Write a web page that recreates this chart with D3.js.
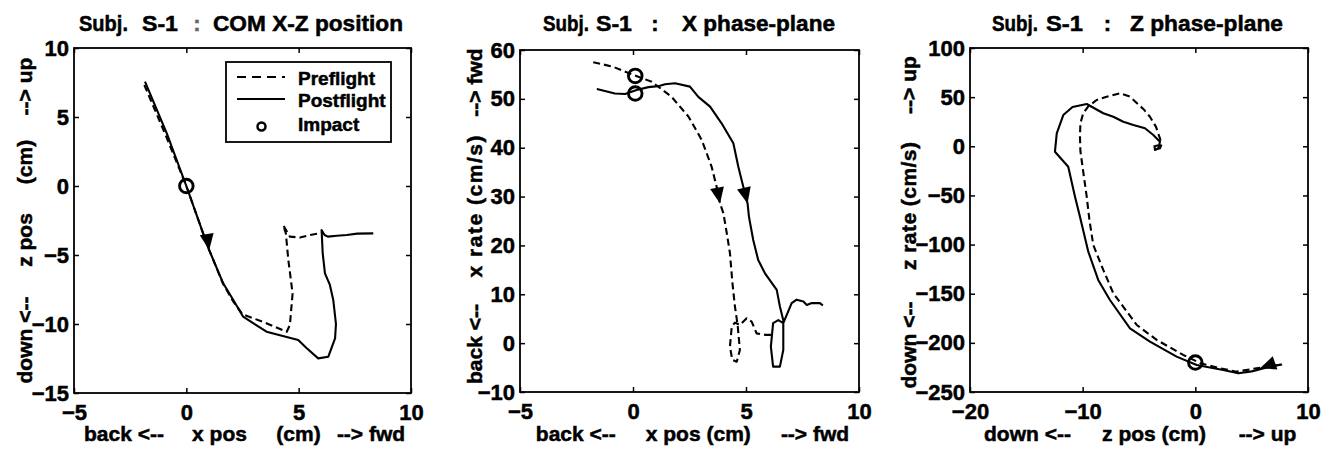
<!DOCTYPE html>
<html><head><meta charset="utf-8">
<script src="https://cdn.jsdelivr.net/npm/d3@7"></script>
<style>
html,body{margin:0;padding:0;background:#fff;}
svg{display:block;font-family:"Liberation Sans",Arial,Helvetica,sans-serif;font-weight:bold;}
svg text{stroke:#000;stroke-width:0.5px;}
</style></head>
<body><svg id="c" width="1336" height="452"></svg>
<script>
// ---------------- DATA ----------------
// Panel 1 : COM X-Z position  [x pos (cm), z pos (cm)]
const p1Pre = [[-1.87,7.32],[-0.9,3.6],[0,0],[0.98,-4.5],[1.64,-7.1],[2.1,-8.4],[2.5,-9.3],[3.5,-9.9],[4.47,-10.56],[4.61,-10.07],[4.73,-7.78],[4.54,-5.36],[4.43,-3.43],[4.31,-2.83],[4.61,-3.67],[5.06,-3.73],[5.5,-3.55],[5.95,-3.43]];
const p1Post = [[-1.84,7.56],[-0.87,3.82],[0,0],[0.98,-4.5],[1.64,-7.05],[2.09,-8.26],[2.53,-9.47],[3.57,-10.56],[4.98,-11.16],[5.36,-11.76],[5.87,-12.49],[6.32,-12.37],[6.62,-11.04],[6.66,-10.0],[6.54,-8.26],[6.39,-7.17],[6.17,-6.33],[6.07,-4.88],[6.02,-3.19],[6.15,-3.55],[6.3,-3.67],[6.7,-3.6],[7.14,-3.55],[7.6,-3.45],[8.32,-3.43]];
const p1Impact = [[0,0]];
const p1Arrows = [[[0.9,-3.43],[1.02,-4.64]]];
const p1XTicks = [-5,0,5,10];
const p1YTicks = [-15,-10,-5,0,5,10];

// Panel 2 : X phase-plane  [x pos (cm), x rate (cm/s)]
const p2Pre = [[-1.76,57.5],[-0.9,56.6],[0.01,54.9],[0.83,53.5],[1.71,50.4],[2.45,46.4],[3.04,41.6],[3.48,36.1],[3.7,32.0],[3.85,28.6],[4.0,26.6],[4.15,22.5],[4.29,18.4],[4.4,12.3],[4.51,7.5],[4.63,3.7],[4.73,-1.4],[4.59,-3.8],[4.39,-3.4],[4.29,-0.7],[4.37,3.4],[4.51,4.2],[4.73,3.7],[5.03,5.1],[5.25,4.4],[5.47,2.0],[5.84,1.7],[6.2,1.7]];
const p2Post = [[-1.6,52.0],[-0.8,51.1],[-0.35,51.0],[0.16,51.8],[0.68,52.4],[1.12,52.6],[1.42,53.0],[1.86,53.2],[2.52,52.5],[2.89,50.4],[3.41,48.4],[3.92,45.0],[4.44,40.9],[4.66,36.1],[4.88,32.0],[5.07,28.6],[5.13,25.9],[5.32,21.1],[5.54,17.0],[5.84,14.3],[6.36,10.9],[6.5,7.5],[6.65,4.7],[6.65,-1.4],[6.5,-4.8],[6.2,-4.8],[6.1,-0.7],[6.2,4.1],[6.43,4.7],[6.65,4.1],[7.02,8.2],[7.24,8.9],[7.54,8.5],[7.69,7.8],[7.91,8.2],[8.27,8.2],[8.4,7.7]];
const p2Impact = [[0.1,54.7],[0.1,51.1]];
const p2Arrows = [[[3.73,31.5],[3.85,28.6]],[[4.91,31.7],[5.07,28.6]]];
const p2XTicks = [-5,0,5,10];
const p2YTicks = [-10,0,10,20,30,40,50,60];

// Panel 3 : Z phase-plane  [z pos (cm), z rate (cm/s)]
const p3Pre = [[7.7,-222],[6.5,-224],[5.44,-225.8],[3.66,-229.3],[2.18,-225.8],[0.5,-221],[-1.07,-212.3],[-3.43,-197],[-5.2,-181.8],[-7.28,-149.5],[-8.17,-125.8],[-9.06,-100.4],[-9.4,-75],[-9.64,-51.3],[-9.9,-30],[-10.2,-5],[-10.24,10],[-10.2,23.4],[-9.95,33.6],[-9.5,40.5],[-8.76,47.1],[-7.87,50.5],[-6.69,53.9],[-5.8,50.5],[-4.62,38],[-4.03,30.1],[-3.5,20],[-3.14,8],[-3.0,2],[-3.14,-2],[-3.43,-3],[-3.6,0],[-3.3,1]];
const p3Post = [[7.6,-222],[6.0,-226],[5.0,-229],[3.81,-231],[2.48,-227.6],[0.12,-222.5],[-1.66,-214],[-4.03,-198.8],[-5.8,-185.2],[-7.58,-156.4],[-8.62,-136],[-9.5,-107.2],[-10.24,-71.6],[-10.68,-51.3],[-11.28,-20.8],[-12.46,-5.5],[-12.3,13.2],[-11.72,31.8],[-10.9,40],[-9.64,43.0],[-8.17,33.6],[-7.28,30.1],[-6.39,25.0],[-5.5,21.7],[-4.47,18.3],[-3.73,11.5],[-3.14,4.7],[-3.28,-2.0],[-3.58,-3.8],[-3.64,1]];
const p3Impact = [[0,-220]];
const p3Arrows = [[[6.92,-221],[5.74,-225.8]]];
const p3XTicks = [-20,-10,0,10];
const p3YTicks = [-250,-200,-150,-100,-50,0,50,100];

// Text
const legendLabels = ["Preflight","Postflight","Impact"];
const titles = [
  ["Subj.","S-1",":","COM X-Z position"],
  ["Subj.","S-1",":","X phase-plane"],
  ["Subj.","S-1",":","Z phase-plane"]
];
const xLabels = [
  ["back <--","x pos","(cm)","--> fwd"],
  ["back <--","x pos (cm)","--> fwd"],
  ["down <--","z pos (cm)","--> up"]
];
const yLabels = [
  ["down <--","z pos","(cm)","--> up"],
  ["back <--","x rate (cm/s)","--> fwd"],
  ["down <--","z rate (cm/s)","--> up"]
];

// ---------------- LAYOUT ----------------
const svg = d3.select("#c");
const panels = [
  {pre:p1Pre, post:p1Post, impact:p1Impact, arrows:p1Arrows, xt:p1XTicks, yt:p1YTicks,
   xd:[-5,10], yd:[-15,10], left:74, right:411, top:48, bottom:393,
   tX:[79,142,null,213], tW:[49,36,null,190], colon:197,
   xCx:[124,219.5,298.5,371], yCy:[340,240,162,86.5], yW:[null,null,null,null], yBx:32},
  {pre:p2Pre, post:p2Post, impact:p2Impact, arrows:p2Arrows, xt:p2XTicks, yt:p2YTicks,
   xd:[-5,10], yd:[-10,60], left:520, right:859, top:50, bottom:392,
   tX:[543,596,null,682], tW:[46,36,null,153], colon:655,
   xCx:[575.8,698.3,815], yCy:[344,206.5,82.5], yW:[null,142,null], yBx:482},
  {pre:p3Pre, post:p3Post, impact:p3Impact, arrows:p3Arrows, xt:p3XTicks, yt:p3YTicks,
   xd:[-20,10], yd:[-250,100], left:970, right:1308, top:48, bottom:392,
   tX:[992,1046,null,1130], tW:[46,37,null,153], colon:1107.5,
   xCx:[1027.5,1154,1267.5], yCy:[345,206,85], yW:[null,128,null], yBx:916}
];

const FS = 21, TFS = 22;

panels.forEach((p, i) => {
  const x = d3.scaleLinear().domain(p.xd).range([p.left, p.right]);
  const y = d3.scaleLinear().domain(p.yd).range([p.bottom, p.top]);
  const g = svg.append("g");

  const styleAxis = (sel) => {
    sel.select(".domain").remove();
    sel.selectAll(".tick line").attr("stroke","#000").attr("stroke-width",1.5);
    sel.selectAll("text").attr("font-size",22).attr("font-weight","bold").attr("fill","#000")
      .attr("font-family",'"Liberation Sans",Arial,Helvetica,sans-serif');
  };
  g.append("g").attr("transform",`translate(0,${p.bottom})`)
    .call(d3.axisBottom(x).tickValues(p.xt).tickSizeInner(-5).tickSizeOuter(0).tickPadding(11).tickFormat(d3.format("d")))
    .call(styleAxis);
  g.append("g").attr("transform",`translate(0,${p.top})`)
    .call(d3.axisTop(x).tickValues(p.xt).tickSizeInner(-5).tickSizeOuter(0).tickFormat(""))
    .call(styleAxis);
  g.append("g").attr("transform",`translate(${p.left},0)`)
    .call(d3.axisLeft(y).tickValues(p.yt).tickSizeInner(-5).tickSizeOuter(0).tickPadding(5).tickFormat(d3.format("d")))
    .call(styleAxis);
  g.append("g").attr("transform",`translate(${p.right},0)`)
    .call(d3.axisRight(y).tickValues(p.yt).tickSizeInner(-5).tickSizeOuter(0).tickFormat(""))
    .call(styleAxis);

  g.append("rect").attr("x",p.left).attr("y",p.top)
    .attr("width",p.right-p.left).attr("height",p.bottom-p.top)
    .attr("fill","none").attr("stroke","#000").attr("stroke-width",1.8);

  const line = d3.line().x(d=>x(d[0])).y(d=>y(d[1]));
  g.append("path").datum(p.pre).attr("d",line).attr("fill","none")
    .attr("stroke","#000").attr("stroke-width",2.1).attr("stroke-dasharray","7,4")
    .attr("stroke-linejoin","round");
  g.append("path").datum(p.post).attr("d",line).attr("fill","none")
    .attr("stroke","#000").attr("stroke-width",2.1).attr("stroke-linejoin","round");

  g.selectAll("circle.imp").data(p.impact).enter().append("circle")
    .attr("cx",d=>x(d[0])).attr("cy",d=>y(d[1])).attr("r",6.8)
    .attr("fill","none").attr("stroke","#000").attr("stroke-width",2.9);

  p.arrows.forEach(a => {
    const fx = x(a[0][0]), fy = y(a[0][1]), tx = x(a[1][0]), ty = y(a[1][1]);
    let dx = tx-fx, dy = ty-fy; const L = Math.hypot(dx,dy); dx/=L; dy/=L;
    const len = 16, hw = 7;
    const bx = tx - dx*len, by = ty - dy*len;
    const pts = [[tx,ty],[bx - dy*hw, by + dx*hw],[bx + dy*hw, by - dx*hw]];
    g.append("polygon").attr("points",pts.map(q=>q.join(",")).join(" ")).attr("fill","#000");
  });

  titles[i].forEach((t,k) => {
    if (k === 2) {
      const col = i === 0 ? "#666" : "#000";
      g.append("text").attr("x",p.colon).attr("y",31).attr("text-anchor","middle")
        .attr("font-size",TFS).attr("fill",col).style("stroke",col).text(t);
    } else {
      g.append("text").attr("x",p.tX[k]).attr("y",31).attr("font-size",TFS)
        .attr("textLength",p.tW[k]).attr("lengthAdjust","spacingAndGlyphs").text(t);
    }
  });
  xLabels[i].forEach((t,k) => {
    g.append("text").attr("x",p.xCx[k]).attr("y",441).attr("text-anchor","middle")
      .attr("font-size",FS).text(t);
  });
  yLabels[i].forEach((t,k) => {
    const w = p.yW[k];
    const tt = g.append("text").attr("font-size",FS).text(t);
    if (w) {
      tt.attr("transform",`translate(${p.yBx},${p.yCy[k]+w/2}) rotate(-90)`)
        .attr("textLength",w).attr("lengthAdjust","spacing");
    } else {
      tt.attr("transform",`translate(${p.yBx},${p.yCy[k]}) rotate(-90)`).attr("text-anchor","middle");
    }
  });

  if (i === 0) {
    const lg = g.append("g");
    lg.append("rect").attr("x",226).attr("y",62).attr("width",165).attr("height",80)
      .attr("fill","#fff").attr("stroke","#000").attr("stroke-width",1.8);
    const rows = [85,107,131];
    lg.append("line").attr("x1",237).attr("x2",285).attr("y1",77).attr("y2",77)
      .attr("stroke","#000").attr("stroke-width",2.2).attr("stroke-dasharray","9,6");
    lg.append("line").attr("x1",237).attr("x2",285).attr("y1",99).attr("y2",99)
      .attr("stroke","#000").attr("stroke-width",2);
    lg.append("circle").attr("cx",261.5).attr("cy",126.5).attr("r",4)
      .attr("fill","none").attr("stroke","#000").attr("stroke-width",2.5);
    legendLabels.forEach((t,k) => {
      lg.append("text").attr("x",298).attr("y",rows[k]).attr("font-size",19).text(t);
    });
  }
});
</script></body></html>
